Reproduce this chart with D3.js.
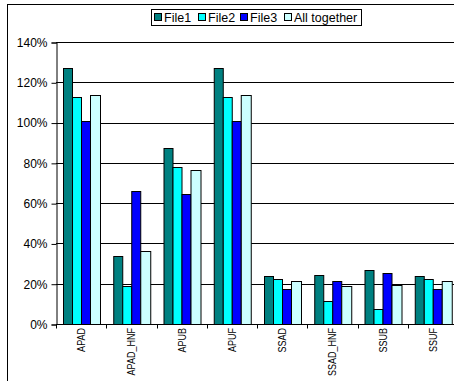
<!DOCTYPE html>
<html>
<head>
<meta charset="utf-8">
<script src="https://cdn.jsdelivr.net/npm/d3@7"></script>
<style>
  html, body { margin: 0; padding: 0; background: #fff; }
  svg { display: block; font-family: "Liberation Sans", Arial, sans-serif; }
</style>
</head>
<body>
<svg id="chart" width="454" height="381"></svg>
<script>
// Benchmark categories along the x axis
const categories = ["APAD", "APAD_HNF", "APUB", "APUF", "SSAD", "SSAD_HNF", "SSUB", "SSUF"];
// Series names shown in the legend
const seriesNames = ["File1", "File2", "File3", "All together"];
// Percent values per series, one per category
const file1 = [127.1, 33.6, 87.2, 127.1, 23.6, 24.3, 26.6, 23.6];
const file2 = [112.7, 18.7, 78.0, 112.7, 22.1, 11.4, 7.4, 22.1];
const file3 = [101.0, 65.8, 64.4, 101.0, 17.5, 21.5, 25.5, 17.5];
const allTogether = [113.8, 36.2, 76.6, 113.8, 21.2, 18.9, 19.2, 21.3];
// Y axis tick values (percent)
const yTicks = [0, 20, 40, 60, 80, 100, 120, 140];
const seriesColors = ["#008080", "#00FFFF", "#0000FF", "#CCFFFF"];

const seriesValues = [file1, file2, file3, allTogether];
const svg = d3.select("#chart");

// Outer chart frame (runs past the right and bottom edges)
svg.append("rect")
  .attr("x", 7.5).attr("y", 4.5)
  .attr("width", 470).attr("height", 400)
  .attr("fill", "#fff").attr("stroke", "#000").attr("stroke-width", 1);

const plotLeft = 56, plotRight = 458, plotTop = 42, plotBottom = 324;

const y = d3.scaleLinear().domain([0, 140]).range([plotBottom, plotTop]);
const x = d3.scaleBand().domain(categories).range([plotLeft, plotRight]).padding(0);
const groupGap = x.bandwidth() * 0.132;
const x1 = d3.scaleBand().domain(seriesNames).range([groupGap, x.bandwidth() - groupGap]).padding(0);

const px = v => Math.round(v) + 0.5;

// Horizontal gridlines
svg.append("g").selectAll("line")
  .data(yTicks.filter(d => d > 0))
  .join("line")
  .attr("x1", plotLeft).attr("x2", 454)
  .attr("y1", d => px(y(d))).attr("y2", d => px(y(d)))
  .attr("stroke", "#000").attr("stroke-width", 1);

// Bars
const groups = svg.append("g").selectAll("g")
  .data(categories)
  .join("g")
  .attr("transform", d => `translate(${x(d)},0)`);

groups.selectAll("rect")
  .data((c, i) => seriesNames.map((s, k) => ({ s, k, v: seriesValues[k][i] })))
  .join("rect")
  .attr("x", d => Math.round(x1(d.s)) + 0.5)
  .attr("width", d => Math.round(x1(d.s) + x1.bandwidth()) - Math.round(x1(d.s)))
  .attr("y", d => Math.round(y(d.v)) + 0.5)
  .attr("height", d => Math.round(y(0)) - Math.round(y(d.v)))
  .attr("fill", d => seriesColors[d.k])
  .attr("stroke", "#000").attr("stroke-width", 1);

// Y axis
const yAxis = svg.append("g").attr("transform", `translate(${px(plotLeft)},0.5)`)
  .call(d3.axisLeft(y).tickValues(yTicks).tickSize(5).tickPadding(4).tickFormat(d => d + "%"));
yAxis.select(".domain").attr("stroke", "#000");
yAxis.selectAll(".tick line").attr("stroke", "#000");
yAxis.selectAll(".tick text").attr("font-size", 12).attr("fill", "#000")
  .attr("font-family", "Liberation Sans, Arial, sans-serif");

// X axis baseline and category boundary ticks
svg.append("line")
  .attr("x1", plotLeft).attr("x2", 454)
  .attr("y1", px(y(0))).attr("y2", px(y(0)))
  .attr("stroke", "#000");
svg.append("g").selectAll("line")
  .data(categories)
  .join("line")
  .attr("x1", d => px(x(d))).attr("x2", d => px(x(d)))
  .attr("y1", px(y(0))).attr("y2", px(y(0)) + 4)
  .attr("stroke", "#000");

// Rotated category labels
svg.append("g").selectAll("text")
  .data(categories)
  .join("text")
  .attr("transform", d => `translate(${x(d) + x.bandwidth() / 2 + 4},${plotBottom + 4}) rotate(-90) scale(0.82,1)`)
  .attr("text-anchor", "end")
  .attr("font-size", 11)
  .attr("fill", "#000")
  .text(d => d);

// Legend
const legend = svg.append("g");
legend.append("rect")
  .attr("x", 151.5).attr("y", 9.5).attr("width", 210).attr("height", 16)
  .attr("fill", "#fff").attr("stroke", "#000");
const legendX = [154, 198, 240, 284];
const items = legend.selectAll("g.item")
  .data(seriesNames)
  .join("g")
  .attr("class", "item")
  .attr("transform", (d, i) => `translate(${legendX[i]},0)`);
items.append("rect")
  .attr("x", 0.5).attr("y", 13.5).attr("width", 7).attr("height", 7)
  .attr("fill", (d, i) => seriesColors[i]).attr("stroke", "#000");
items.append("text")
  .attr("x", 10).attr("y", 22)
  .attr("font-size", 12.5)
  .attr("fill", "#000")
  .text(d => d);
</script>
</body>
</html>
